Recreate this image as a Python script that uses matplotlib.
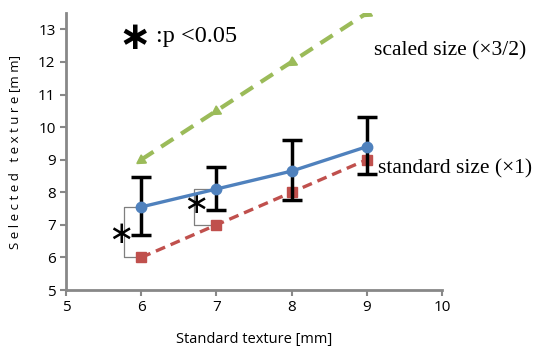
import numpy as np
import matplotlib.pyplot as plt

# data
x = [6, 7, 8, 9]
selected_mean = [7.55, 8.1, 8.65, 9.4]
err_low = [6.7, 7.47, 7.76, 8.56]
err_high = [8.46, 8.77, 9.6, 10.3]
standard_size = [6, 7, 8, 9]
scaled_size = [9, 10.5, 12, 13.5]

xticks = [5, 6, 7, 8, 9, 10]
yticks = [5, 6, 7, 8, 9, 10, 11, 12, 13]

fig = plt.figure(figsize=(5.38, 3.52), dpi=100)
ax = fig.add_axes([0.1227, 0.176, 0.699, 0.787])

sans = 'Open Sans'
serif = 'Liberation Serif'
gray = '#888888'

# scaled size (x3/2), green dashed with arrow-like triangles
ax.plot(x, scaled_size, color='#9bbb59', lw=3, ls=(0, (3.5, 2.2)), zorder=2)
ax.plot(x, scaled_size, ls='none', marker=(3, 0, 123), ms=8, color='#9bbb59', zorder=3)

# standard size (x1), red dashed squares
ax.plot(x, standard_size, color='#c0504d', lw=2.4, ls=(0, (3, 1.8)),
        marker='s', ms=6.5, zorder=2)

# selected texture, blue with error bars
yerr = [np.array(selected_mean) - np.array(err_low),
        np.array(err_high) - np.array(selected_mean)]
ax.errorbar(x, selected_mean, yerr=yerr, fmt='none', ecolor='black',
            elinewidth=2.5, capsize=7, capthick=2.5, zorder=3)
ax.plot(x, selected_mean, color='#4f81bd', lw=2.4, marker='o', ms=7.5, zorder=4)

# significance brackets
for xi, top, bot, xl in [(x[0], selected_mean[0], standard_size[0], 5.77),
                         (x[1], selected_mean[1], standard_size[1], 6.7)]:
    ax.plot([xi, xl, xl, xi], [top, top, bot, bot], color='#7f7f7f', lw=0.9, zorder=1)
ax.text(5.735, 6.7, '\u2217', fontsize=22, ha='center', va='center',
        family='DejaVu Sans', color='black')
ax.text(6.73, 7.62, '\u2217', fontsize=22, ha='center', va='center',
        family='DejaVu Sans', color='black')

ax.text(5.92, 12.72, '\u2217', fontsize=28, ha='center', va='center',
        family='DejaVu Sans', fontweight='bold')
ax.text(6.2, 12.78, ':p <0.05', fontsize=17.5, ha='left', va='center', family=serif)

ax.text(9.1, 12.35, 'scaled size (\u00d73/2)', fontsize=15.5, ha='left',
        va='center', family=serif, clip_on=False)
ax.text(9.15, 8.72, 'standard size (\u00d71)', fontsize=15.5, ha='left',
        va='center', family=serif, clip_on=False)

ax.set_xlim(5, 10)
ax.set_ylim(5, 13.5)
ax.set_xticks(xticks)
ax.set_yticks(yticks)
ax.tick_params(direction='out', length=4, width=1.5, color=gray, labelsize=11)
for lab in ax.get_xticklabels() + ax.get_yticklabels():
    lab.set_family(sans)
for s in ['top', 'right']:
    ax.spines[s].set_visible(False)
for s in ['left', 'bottom']:
    ax.spines[s].set_color(gray)
    ax.spines[s].set_linewidth(2)

ax.set_xlabel('Standard texture [mm]', family=sans, fontsize=10.5, labelpad=12)
ax.set_ylabel('S e l e c t e d   t e x t u r e [m m]', family=sans, fontsize=9.5, labelpad=12)

fig.savefig('out.png', dpi=100)
